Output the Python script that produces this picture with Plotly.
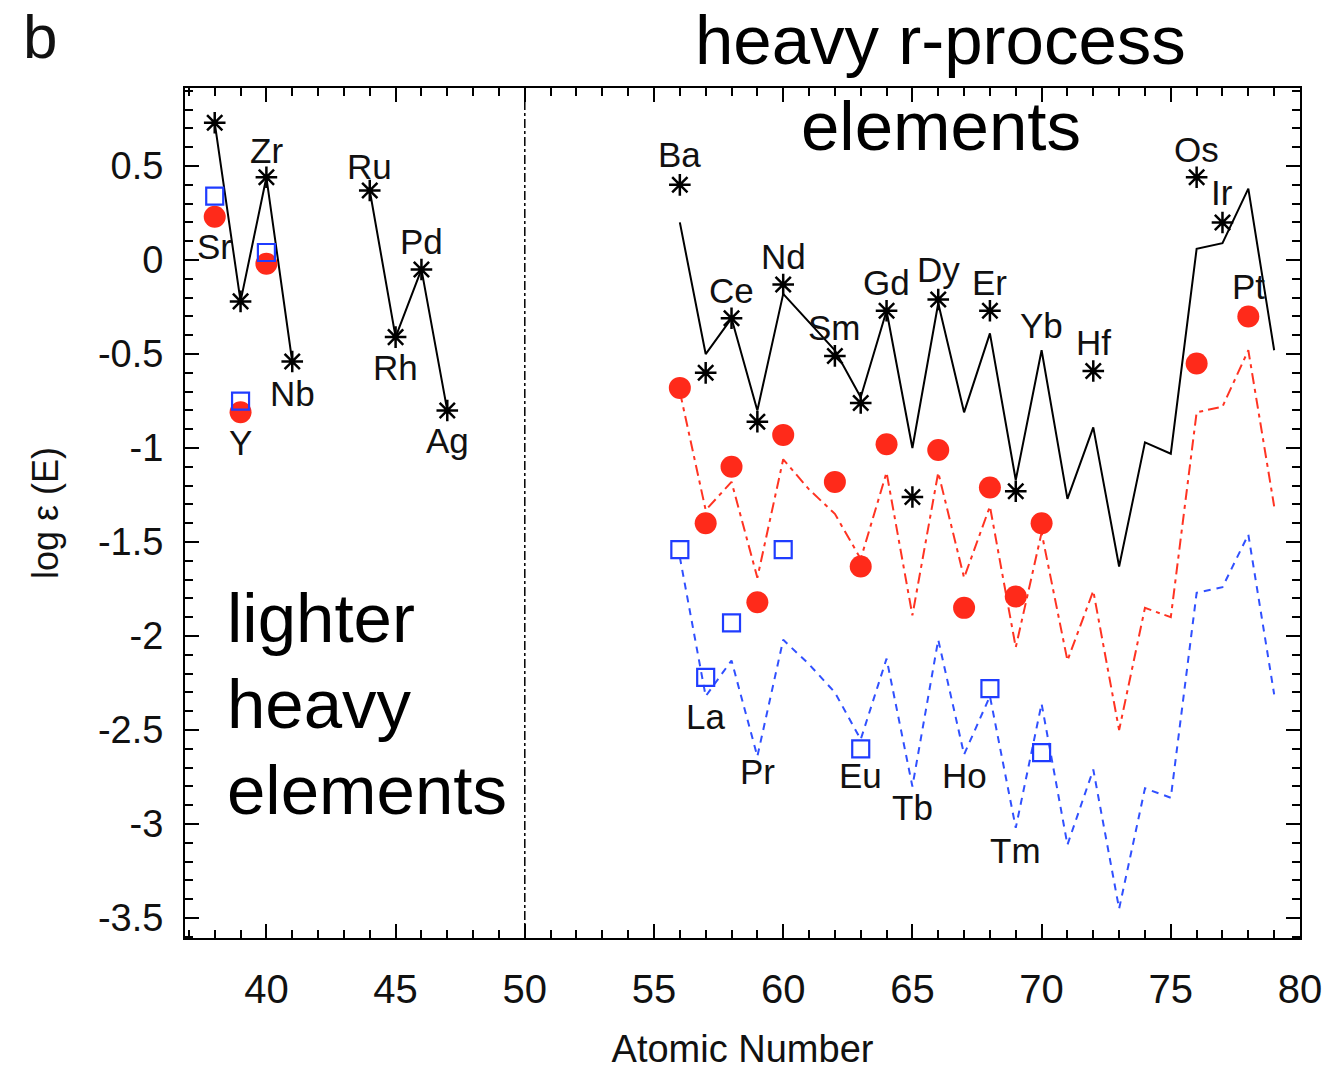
import plotly.graph_objects as go

# ---------------- data ----------------
# lighter heavy elements: observed (black stars, joined by solid line)
light_Z = [38, 39, 40, 41, 44, 45, 46, 47]
light_obs = [0.73, -0.22, 0.44, -0.54, 0.37, -0.41, -0.05, -0.80]
# red circles / blue squares in the light region
light_red_Z = [38, 39, 40]
light_red = [0.23, -0.81, -0.02]
light_blue_Z = [38, 39, 40]
light_blue = [0.34, -0.75, 0.04]

# heavy r-process region: model curves
heavy_Z = [56, 57, 58, 59, 60, 61, 62, 63, 64, 65, 66, 67, 68, 69, 70, 71,
           72, 73, 74, 75, 76, 77, 78, 79]
model_black = [0.20, -0.50, -0.31, -0.80, -0.18, -0.33, -0.48, -0.73, -0.27,
               -1.00, -0.23, -0.81, -0.39, -1.17, -0.48, -1.27, -0.89, -1.63,
               -0.97, -1.03, 0.06, 0.09, 0.38, -0.48]
model_red = [-0.70, -1.33, -1.18, -1.69, -1.06, -1.22, -1.35, -1.59, -1.13,
             -1.89, -1.13, -1.69, -1.31, -2.06, -1.45, -2.13, -1.76, -2.50,
             -1.85, -1.90, -0.81, -0.78, -0.48, -1.31]
model_blue = [-1.58, -2.32, -2.13, -2.64, -2.02, -2.15, -2.30, -2.55, -2.12,
              -2.80, -2.02, -2.63, -2.32, -3.02, -2.36, -3.11, -2.71, -3.45,
              -2.81, -2.86, -1.77, -1.74, -1.46, -2.31]

# heavy region: observations
heavy_star_Z = [56, 57, 58, 59, 60, 62, 63, 64, 65, 66, 68, 69, 72, 76, 77]
heavy_star = [0.40, -0.60, -0.31, -0.86, -0.13, -0.51, -0.76, -0.27, -1.26,
              -0.21, -0.27, -1.23, -0.59, 0.44, 0.20]
heavy_red_Z = [56, 57, 58, 59, 60, 62, 63, 64, 66, 67, 68, 69, 70, 76, 78]
heavy_red = [-0.68, -1.40, -1.10, -1.82, -0.93, -1.18, -1.63, -0.98, -1.01,
             -1.85, -1.21, -1.79, -1.40, -0.55, -0.30]
heavy_blue_Z = [56, 57, 58, 60, 63, 68, 70]
heavy_blue = [-1.54, -2.22, -1.93, -1.54, -2.60, -2.28, -2.62]

# element labels (symbol, atomic number, label height in log eps units)
label_sym = ["Sr", "Y", "Zr", "Nb", "Ru", "Rh", "Pd", "Ag",
             "Ba", "La", "Ce", "Pr", "Nd", "Sm", "Eu", "Gd", "Tb", "Dy",
             "Ho", "Er", "Tm", "Yb", "Hf", "Os", "Ir", "Pt"]
label_Z = [38, 39, 40, 41, 44, 45, 46, 47,
           56, 57, 58, 59, 60, 62, 63, 64, 65, 66,
           67, 68, 69, 70, 72, 76, 77, 78]
label_y = [0.07, -0.97, 0.58, -0.71, 0.50, -0.57, 0.10, -0.96,
           0.56, -2.43, -0.16, -2.72, 0.02, -0.36, -2.74, -0.12, -2.91, -0.05,
           -2.74, -0.12, -3.14, -0.35, -0.44, 0.59, 0.36, -0.14]

x_ticks = [40, 45, 50, 55, 60, 65, 70, 75, 80]
y_ticks = [0.5, 0, -0.5, -1, -1.5, -2, -2.5, -3, -3.5]
y_tick_text = ["0.5", "0", "-0.5", "-1", "-1.5", "-2", "-2.5", "-3", "-3.5"]

# big region captions (one entry per text line)
top_caption = ["heavy r-process", "elements"]
left_caption = ["lighter", "heavy", "elements"]

FONT = "Liberation Sans, Arial, sans-serif"
RED = "#ff2a1a"
BLUE = "#1f3cff"

fig = go.Figure()

# light region solid line through stars, broken into consecutive runs
seg_x, seg_y = [], []
for i, (z, v) in enumerate(zip(light_Z, light_obs)):
    if i > 0 and z - light_Z[i - 1] > 1:
        seg_x.append(None)
        seg_y.append(None)
    seg_x.append(z)
    seg_y.append(v)
fig.add_trace(go.Scatter(x=seg_x, y=seg_y, mode="lines",
                         line=dict(color="black", width=2), hoverinfo="skip"))

# model curves
fig.add_trace(go.Scatter(x=heavy_Z, y=model_black, mode="lines",
                         line=dict(color="black", width=2)))
fig.add_trace(go.Scatter(x=heavy_Z, y=model_red, mode="lines",
                         line=dict(color="#ff3322", width=2,
                                   dash="11px,5px,4px,5px")))
fig.add_trace(go.Scatter(x=heavy_Z, y=model_blue, mode="lines",
                         line=dict(color="#3050ff", width=2, dash="7px,6px")))

# red circles
fig.add_trace(go.Scatter(x=light_red_Z + heavy_red_Z, y=light_red + heavy_red,
                         mode="markers",
                         marker=dict(symbol="circle", size=22, color=RED,
                                     line=dict(width=0))))
# blue open squares
fig.add_trace(go.Scatter(x=light_blue_Z + heavy_blue_Z, y=light_blue + heavy_blue,
                         mode="markers",
                         marker=dict(symbol="square-open", size=17,
                                     color=BLUE, line=dict(width=2.2))))
# black stars
fig.add_trace(go.Scatter(x=light_Z + heavy_star_Z, y=light_obs + heavy_star,
                         mode="markers",
                         marker=dict(symbol="asterisk-open", size=18,
                                     color="black", line=dict(width=2.5,
                                                              color="black"))))

# element labels
for s, z, yv in zip(label_sym, label_Z, label_y):
    fig.add_annotation(x=z, y=yv, text=s, showarrow=False, xref="x", yref="y",
                       font=dict(family=FONT, size=35, color="#111"),
                       xanchor="center", yanchor="middle")

# divider at Z = 50
fig.add_shape(type="line", xref="x", yref="paper", x0=50, x1=50, y0=0, y1=1,
              line=dict(color="black", width=1.5, dash="dashdot"))

# panel letter
fig.add_annotation(xref="paper", yref="paper", x=-0.147, y=1.06,
                   text="b", showarrow=False,
                   font=dict(family=FONT, size=62, color="#111"),
                   xanchor="left", yanchor="middle")

# captions: line spacing ~86 px (0.101 of plot height)
LINE = 86 / 850
for k, t in enumerate(top_caption):
    fig.add_annotation(xref="paper", yref="paper", x=0.678,
                       y=1.056 - k * LINE, text=t, showarrow=False,
                       font=dict(family=FONT, size=69, color="black"),
                       xanchor="center", yanchor="middle")
for k, t in enumerate(left_caption):
    fig.add_annotation(xref="paper", yref="paper", x=0.036,
                       y=0.376 - k * LINE, text=t, showarrow=False,
                       font=dict(family=FONT, size=69, color="black"),
                       xanchor="left", yanchor="middle")

axis_common = dict(showline=True, linecolor="black", linewidth=2, mirror="allticks",
                   ticks="inside", tickcolor="black", tickwidth=2,
                   showgrid=False, zeroline=False)

fig.update_xaxes(range=[36.85, 80], tickvals=x_ticks, ticklen=14,
                 minor=dict(dtick=1, ticklen=8, tickcolor="black", tickwidth=1.5,
                            ticks="inside"),
                 tickfont=dict(family=FONT, size=40, color="#111"),
                 ticklabelstandoff=15,
                 title=dict(text="Atomic Number", standoff=38,
                            font=dict(family=FONT, size=38, color="#111")),
                 **axis_common)
fig.update_yaxes(range=[-3.606, 0.915], tickvals=y_ticks, ticktext=y_tick_text,
                 ticklen=14,
                 minor=dict(dtick=0.1, tick0=0, ticklen=8, tickcolor="black",
                            tickwidth=1.5, ticks="inside"),
                 tickfont=dict(family=FONT, size=38, color="#111"),
                 ticklabelstandoff=12,
                 title=dict(text="log ε (E)", standoff=28,
                            font=dict(family=FONT, size=36, color="#111")),
                 **axis_common)

fig.update_layout(width=1339, height=1070, showlegend=False,
                  plot_bgcolor="white", paper_bgcolor="white",
                  margin=dict(l=185, r=39, t=88, b=132, autoexpand=False))

fig.write_html("out.html")
